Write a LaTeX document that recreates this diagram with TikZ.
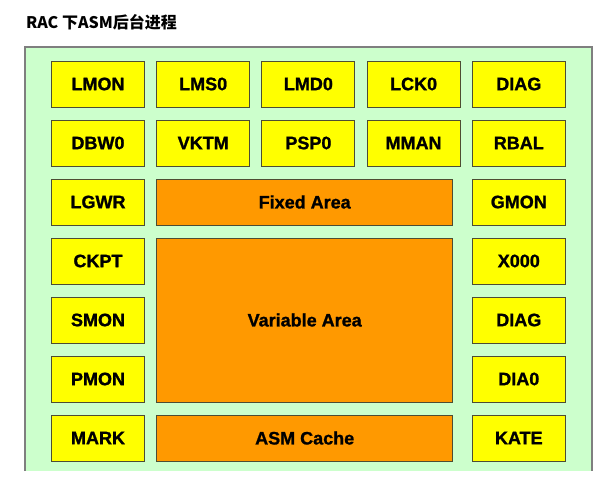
\documentclass[tikz,border=0pt]{standalone}
\usepackage{fontspec}
\setmainfont{Liberation Sans}[BoldFeatures={FakeBold=1.2}]
\newfontfamily\cjkfont{Noto Sans CJK SC}
\usetikzlibrary{positioning}
\definecolor{panelgreen}{HTML}{CCFFCC}
\definecolor{paneledge}{HTML}{7F7F7F}
\definecolor{procyellow}{HTML}{FFFF00}
\definecolor{areaorange}{HTML}{FF9900}
\definecolor{boxedge}{HTML}{4D4D33}
\tikzset{
    proc/.style = {draw=boxedge, fill=procyellow, line width=1pt,
        minimum width=93pt, minimum height=46pt, inner sep=0pt,
        font=\bfseries\fontsize{18}{21}\selectfont},
    area/.style = {draw=boxedge, fill=areaorange, line width=1pt,
        minimum width=296pt, minimum height=46pt, inner sep=0pt,
        font=\bfseries\fontsize{18}{21}\selectfont}
}

\begin{document}
\begin{tikzpicture}[x=1pt, y=1pt, node distance=12pt and 11.2pt]
\useasboundingbox (0,0) rectangle (610,-482);
% panel
\fill[panelgreen] (25,-47) rectangle (592,-471);
\draw[paneledge, line width=1.5pt] (25,-471) -- (25,-47) -- (592,-47) -- (592,-471);
\node[anchor=west, inner sep=0pt, font=\cjkfont\bfseries\fontsize{16}{18}\selectfont] (title) at (26,-22) {RAC 下ASM后台进程};

% row 1
\node[proc] (lmon) at (98,-84) {LMON};
\node[proc, right=of lmon] (lms) {LMS0};
\node[proc, right=of lms] (lmd) {LMD0};
\node[proc, right=of lmd] (lck) {LCK0};
\node[proc, right=of lck] (diaga) {DIAG};
% row 2
\node[proc, below=of lmon] (dbw) {DBW0};
\node[proc, below=of lms] (vktm) {VKTM};
\node[proc, below=of lmd] (psp) {PSP0};
\node[proc, below=of lck] (mman) {MMAN};
\node[proc, below=of diaga] (rbal) {RBAL};
% left and right columns
\node[proc, below=of dbw] (lgwr) {LGWR};
\node[proc, below=of lgwr] (ckpt) {CKPT};
\node[proc, below=of ckpt] (smon) {SMON};
\node[proc, below=of smon] (pmon) {PMON};
\node[proc, below=of pmon] (mark) {MARK};
\node[proc, below=of rbal] (gmon) {GMON};
\node[proc, below=of gmon] (xzero) {X000};
\node[proc, below=of xzero] (diagb) {DIAG};
\node[proc, below=of diagb] (dia) {DIA0};
\node[proc, below=of dia] (kate) {KATE};
% SGA areas
\node[area, anchor=north west] (fixed) at (vktm.south west |- lgwr.north) {Fixed Area};
\node[area, anchor=north west, minimum height=164pt] (var) at (vktm.south west |- ckpt.north) {Variable Area};
\node[area, anchor=north west] (cache) at (vktm.south west |- mark.north) {ASM Cache};
\end{tikzpicture}
\end{document}
